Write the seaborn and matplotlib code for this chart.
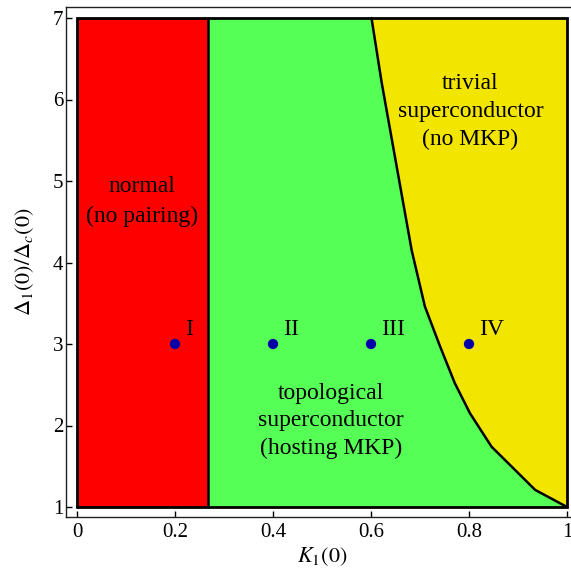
import numpy as np
import pandas as pd
import matplotlib
matplotlib.use("Agg")
import matplotlib.pyplot as plt
import seaborn as sns

# phase boundaries
normal_edge = 0.268
curve_x = [0.601, 0.622, 0.683, 0.710, 0.741, 0.771, 0.802, 0.846, 0.935, 1.0]
curve_y = [7.0, 6.2, 4.15, 3.46, 2.97, 2.52, 2.15, 1.74, 1.21, 1.0]

# marked points
point_x = [0.2, 0.4, 0.6, 0.8]
point_y = [3, 3, 3, 3]
point_names = ["I", "II", "III", "IV"]

xticks = [0, 0.2, 0.4, 0.6, 0.8, 1]
xtick_labels = ["0", "0.2", "0.4", "0.6", "0.8", "1"]
yticks = [1, 2, 3, 4, 5, 6, 7]

red = "#FF0000"
green = "#55FF55"
yellow = "#F2E500"
blue = "#0000A8"

sns.set_theme(style="white")
plt.rcParams["font.family"] = ["Liberation Serif", "DejaVu Serif"]
plt.rcParams["mathtext.fontset"] = "stix"
plt.rcParams["text.color"] = "black"
plt.rcParams["axes.labelcolor"] = "black"
plt.rcParams["xtick.color"] = "black"
plt.rcParams["ytick.color"] = "black"

fig = plt.figure(figsize=(5.71, 5.73), dpi=100)
W, H = 571, 573
ax = fig.add_axes([66 / W, (H - 517) / H, (578 - 66) / W, (517 - 7) / H])

cx = np.array(curve_x)
cy = np.array(curve_y)

ax.fill_between([0, normal_edge], 1, 7, color=red, lw=0)
ax.fill_betweenx(cy, normal_edge, cx, color=green, lw=0)
ax.fill_betweenx(cy, cx, 1, color=yellow, lw=0)

# boundaries
ax.plot([normal_edge, normal_edge], [1, 7], color="black", lw=1.8)
sns.lineplot(x=curve_x, y=curve_y, sort=False, color="black", lw=1.8, ax=ax)
ax.plot([0, 1, 1, 0, 0], [1, 1, 7, 7, 1], color="black", lw=2.0,
        solid_joinstyle="miter")

pts = pd.DataFrame({"x": point_x, "y": point_y, "name": point_names})
sns.scatterplot(data=pts, x="x", y="y", color=blue, s=55, edgecolor="none",
                ax=ax, zorder=5)
for _, r in pts.iterrows():
    ax.annotate(r["name"], (r["x"], r["y"]), xytext=(7, 3),
                textcoords="offset points", ha="left", va="bottom", fontsize=17)

ax.text(0.133, 4.75, "normal\n(no pairing)", ha="center", va="center",
        fontsize=17, linespacing=1.55)
ax.text(0.803, 5.85, "trivial\nsuperconductor\n(no MKP)", ha="center",
        va="center", fontsize=17, linespacing=1.42)
ax.text(0.518, 2.055, "topological\nsuperconductor\n(hosting MKP)", ha="center",
        va="center", fontsize=17, linespacing=1.42)

ax.set_xlim(-11 / 490, 1 + 11 / 490)
ax.set_ylim(1 - 10 / 81.5, 7 + 11 / 81.5)
ax.set_xticks(xticks)
ax.set_xticklabels(xtick_labels)
ax.set_yticks(yticks)
ax.tick_params(axis="both", direction="in", length=4, width=1, labelsize=15,
               color="black", bottom=True, left=True)
ax.tick_params(axis="x", pad=4)
ax.tick_params(axis="y", pad=2)
for s in ax.spines.values():
    s.set_color("#222222")
    s.set_linewidth(1.0)

ax.set_xlabel(r"$K_1(0)$", fontsize=16, labelpad=3)
ax.set_ylabel(r"$\Delta_1(0)/\Delta_c(0)$", fontsize=16, labelpad=12)
ax.grid(False)

fig.savefig("out.png", dpi=100)
